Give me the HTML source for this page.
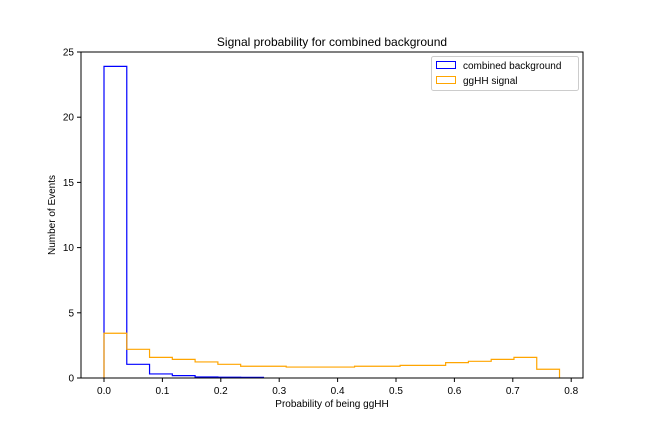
<!DOCTYPE html>
<html><head><meta charset="utf-8"><style>
body{margin:0;background:#fff;font-family:"Liberation Sans","DejaVu Sans",sans-serif}
text{font-family:"Liberation Sans","DejaVu Sans",sans-serif}
</style></head><body>
<svg id="c" width="648" height="432">
<rect width="648" height="432" fill="#fff"/>
</svg>
<script>
const binStart = 0, binWidth = 0.039;
const backgroundValues = [23.9,1.05,0.31,0.18,0.08,0.06,0.05,0,0,0,0,0,0,0,0,0,0,0,0,0];
const signalValues = [3.43,2.2,1.58,1.43,1.23,1.05,0.9,0.9,0.84,0.84,0.84,0.9,0.9,0.97,0.97,1.18,1.28,1.43,1.58,0.67];
const xTicks = [0.0,0.1,0.2,0.3,0.4,0.5,0.6,0.7,0.8];
const yTicks = [0,5,10,15,20,25];
const L=81,R=583,T=52,B=378;
const sx=v=>104+v*584;
const sy=v=>B-v*(B-T)/25;
const svg=document.getElementById('c');
const NS='http://www.w3.org/2000/svg';
function mk(tag,attrs,parent){const e=document.createElementNS(NS,tag);for(const k in attrs)e.setAttribute(k,attrs[k]);(parent||svg).appendChild(e);return e;}
function stepPath(vals){
  let last=vals.length-1;while(last>0&&vals[last]===0)last--;
  let d='M'+sx(binStart)+','+sy(0);
  for(let i=0;i<=last;i++){const x0=sx(binStart+i*binWidth),x1=sx(binStart+(i+1)*binWidth);d+=' L'+x0+','+sy(vals[i])+' L'+x1+','+sy(vals[i]);}
  d+=' L'+sx(binStart+(last+1)*binWidth)+','+sy(0);
  return d;
}
const bg=mk('path',{d:stepPath(backgroundValues),fill:'none',stroke:'blue','stroke-width':1.2});


const sig=mk('path',{d:stepPath(signalValues),fill:'none',stroke:'orange','stroke-width':1.2});


const frame=mk('rect',{x:L,y:T,width:R-L,height:B-T,fill:'none',stroke:'#000','stroke-width':1});


xTicks.forEach(v=>{
  mk('line',{x1:sx(v),x2:sx(v),y1:B,y2:B+4,stroke:'#000'});
  const t=mk('text',{x:sx(v),y:B+16,'font-size':10,'text-anchor':'middle'});t.textContent=v.toFixed(1);
  
  
});
yTicks.forEach(v=>{
  mk('line',{x1:L-4,x2:L,y1:sy(v),y2:sy(v),stroke:'#000'});
  const t=mk('text',{x:L-7,y:sy(v)+3.5,'font-size':10,'text-anchor':'end'});t.textContent=v;
  
  
});
</script>
<svg width="648" height="432" style="position:absolute;left:0;top:0">
<text x="332" y="46" font-size="12" text-anchor="middle">Signal probability for combined background</text>
<text x="332" y="407" font-size="10" text-anchor="middle">Probability of being ggHH</text>
<text x="0" y="0" font-size="10" text-anchor="middle" transform="translate(55,215) rotate(-90)">Number of Events</text>
<g>
<rect x="431.5" y="56.5" width="147" height="34" rx="2" fill="#fff" stroke="#ccc"/>
<g>
<rect x="436.5" y="61.5" width="19" height="7" fill="none" stroke="blue"/>
<text x="463" y="69" font-size="10">combined background</text></g>
<g>
<rect x="436.5" y="76.5" width="19" height="7" fill="none" stroke="orange"/>
<text x="463" y="84" font-size="10">ggHH signal</text></g>
</g>
</svg>
</body></html>
